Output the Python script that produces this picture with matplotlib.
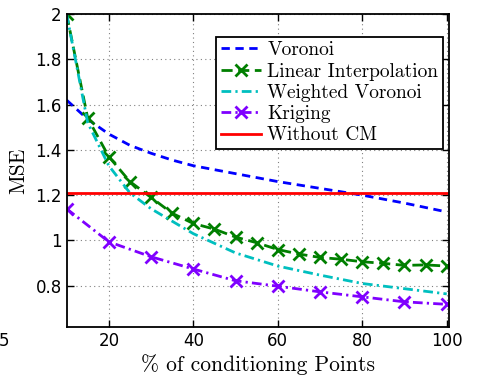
import numpy as np
import matplotlib.pyplot as plt

# percent of conditioning points
x_vor = [10, 15, 20, 25, 30, 35, 40, 50, 60, 70, 80, 90, 100]
voronoi = [1.62, 1.535, 1.47, 1.42, 1.385, 1.355, 1.33, 1.295, 1.26, 1.23, 1.2, 1.165, 1.126]

x_lin = list(range(10, 101, 5))
linear = [2.0, 1.54, 1.37, 1.26, 1.19, 1.12, 1.075, 1.05, 1.015, 0.99, 0.96,
          0.94, 0.925, 0.917, 0.906, 0.899, 0.89, 0.892, 0.887]

x_wv = [10, 15, 20, 25, 30, 40, 50, 60, 70, 80, 90, 100]
weighted = [2.0, 1.52, 1.33, 1.21, 1.14, 1.03, 0.945, 0.887, 0.847, 0.81, 0.787, 0.764]

x_kr = list(range(10, 101, 10))
kriging = [1.14, 0.994, 0.928, 0.874, 0.822, 0.798, 0.773, 0.751, 0.729, 0.718]

without_cm = 1.21

plt.rcParams['axes.unicode_minus'] = False
serif = ['cmr10', 'DejaVu Serif']

fig = plt.figure(figsize=(4.79, 3.78), dpi=100)
ax = fig.add_axes([0.139, 0.135, 0.798, 0.828])

lw = 2
ax.plot(x_vor, voronoi, color='#0000ff', lw=lw, ls=(0, (3, 2)), label='Voronoi')
ax.plot(x_lin, linear, color='#007f00', lw=lw, ls=(0, (4, 2)), marker='x',
        ms=8, mew=2, label='Linear Interpolation')
ax.plot(x_wv, weighted, color='#00bfbf', lw=lw, ls=(0, (3.5, 1.5, 0.8, 1.5)),
        label='Weighted Voronoi')
ax.plot(x_kr, kriging, color='#7f00ff', lw=lw, ls=(0, (3.5, 1.5, 0.8, 1.5)), marker='x',
        ms=8, mew=2, label='Kriging')
ax.axhline(without_cm, color='#ff0000', lw=lw, label='Without CM')

ax.set_xlim(10, 100.5)
ax.set_ylim(0.618, 2)
ax.set_xticks([20, 40, 60, 80, 100])
ax.set_yticks([0.8, 1, 1.2, 1.4, 1.6, 1.8, 2])
ax.set_yticklabels(['0.8', '1', '1.2', '1.4', '1.6', '1.8', '2'])
ax.tick_params(direction='in', top=True, right=True, labelsize=12, length=5, width=1)
ax.grid(True, ls=(0, (1, 3)), color='#808080', lw=0.8)
for s in ax.spines.values():
    s.set_linewidth(1.3)

ax.set_xlabel('% of conditioning Points', fontfamily=serif, fontsize=15.5, labelpad=3)
ax.set_ylabel('MSE', fontfamily=serif, fontsize=15.5, labelpad=5)

leg = ax.legend(loc='upper right', bbox_to_anchor=(0.985, 0.928), prop={'family': serif, 'size': 14},
                fancybox=False, edgecolor='black', framealpha=1,
                handlelength=2.1, handletextpad=0.3, labelspacing=0.17, borderpad=0.25,
                borderaxespad=0)
leg.get_frame().set_linewidth(1.3)

fig.text(-0.003, 0.085, '5', fontsize=12)

fig.savefig('out.png', dpi=100)
